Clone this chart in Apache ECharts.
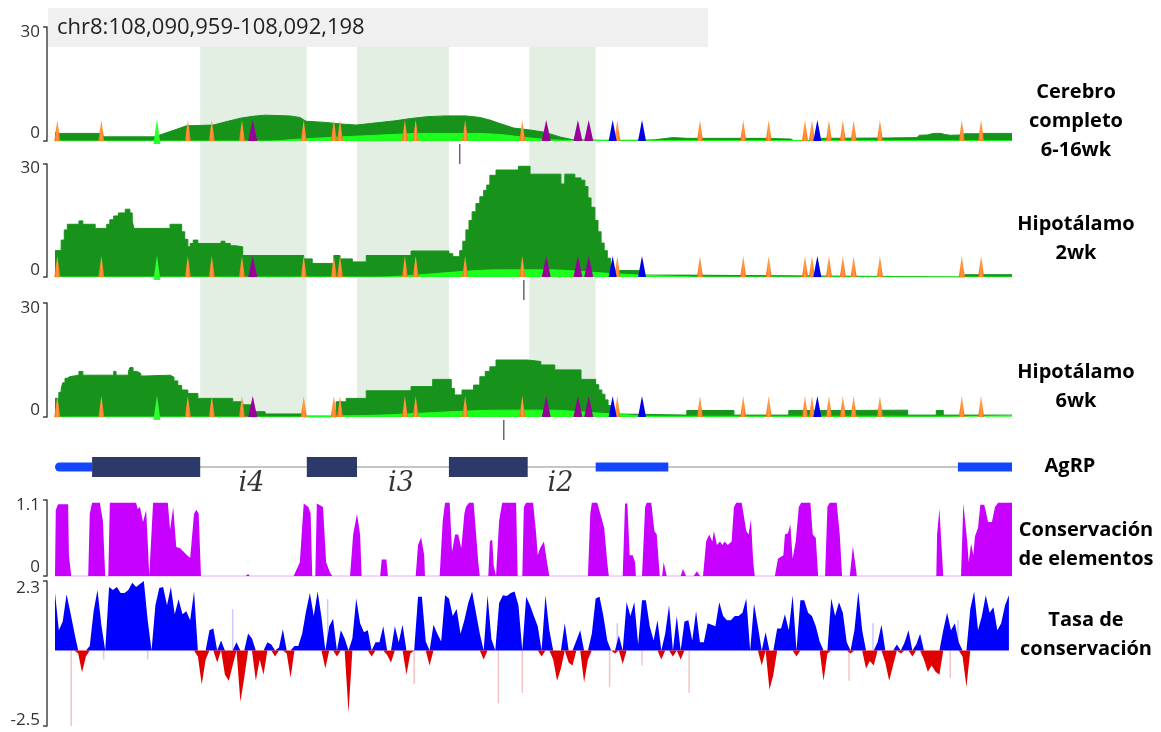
<!DOCTYPE html>
<html><head><meta charset="utf-8">
<script src="https://cdn.jsdelivr.net/npm/echarts@6/dist/echarts.min.js"></script>
<style>html,body{margin:0;padding:0;background:#fff}#c{width:1161px;height:732px}</style>
</head><body><div id="c"></div>
<script>
// ---------------- DATA (positions in bp from region start) ----------------
const region = 'chr8:108,090,959-108,092,198';
const regionLength = 1239;

const trackLabels = ['Cerebro\ncompleto\n6-16wk', 'Hipotálamo\n2wk', 'Hipotálamo\n6wk', 'AgRP', 'Conservación\nde elementos', 'Tasa de\nconservación'];

// shaded intron bands and their names
const introns = [[188, 326], [391, 510], [614, 700]];
const intronNames = ['i4', 'i3', 'i2'];

// AgRP gene model
const geneUTR = [[0, 48], [700, 794], [1169, 1239]];
const geneCDS = [[48, 188], [326, 391], [510, 612]];

// coverage: [position, reads]
const cerebroDark = [[0,2.3],[5,2.0],[60,2.0],[63,1.1],[128,1.1],[136,1.6],[149,2.5],[162,3.4],[170,4.0],[205,4.2],[220,5.0],[240,6.0],[256,6.5],[272,6.8],[304,6.6],[317,6.2],[325,5.2],[350,4.9],[369,4.5],[390,4.2],[408,4.6],[440,5.3],[460,5.9],[482,6.4],[505,6.6],[532,6.6],[550,6.2],[563,5.5],[576,4.6],[594,3.4],[615,2.9],[634,2.3],[655,1.0],[671,0.3],[706,0.2],[757,0.2],[776,0.3],[800,0.9],[818,0.7],[919,0.7],[953,0.5],[956,0.1],[990,0.1],[993,0.7],[1079,0.8],[1116,0.9],[1119,1.5],[1130,1.6],[1137,2.0],[1147,2.0],[1152,1.7],[1159,1.5],[1174,1.6],[1178,1.9],[1198,1.9],[1202,2.0],[1239,2.0]];
const cerebroLight = [[0,0],[278,0],[317,0.5],[382,1.2],[447,1.8],[473,2.0],[544,2.0],[576,1.7],[615,0.8],[654,0.2],[732,0.1],[1239,0.1]];

const hipo2Dark = [[0,7],[8,9.8],[12,12.5],[16,14],[31,14.9],[36,14],[52,12.9],[67,14],[71,15.2],[76,16.2],[82,17],[91,18],[97,17],[100,15],[102,12.9],[149,14],[164,12],[168,10],[172,8],[175,8.9],[179,9.8],[185,8.9],[215,9.5],[220,8.9],[227,8.3],[234,8],[243,5.7],[322,4.8],[333,3.6],[361,5.7],[369,4.8],[385,4],[403,5.7],[461,6.9],[510,6.2],[515,5.4],[524,7],[528,9.5],[532,12.5],[536,15],[540,17.3],[545,19.5],[550,21.3],[555,23],[559,24.4],[563,27],[571,28.4],[600,29.4],[615,27.3],[655,24.7],[660,27.3],[673,26.3],[681,25.7],[686,24],[690,21],[694,18.5],[699,15],[703,12],[707,9],[711,7],[715,5],[719,3],[722,1.7],[756,0.5],[814,0],[1178,0.6],[1239,0.6]];
const hipo2Light = [[0,0],[421,0],[473,0.6],[537,1.6],[576,1.9],[641,1.9],[680,1.5],[706,1.1],[732,0.8],[770,0.4],[822,0.1],[825,0],[1239,0]];

const hipo6Dark = [[0,4.9],[5,6.5],[8,7.5],[10,9],[13,10.2],[16,10.6],[19,11],[31,12],[36,11],[76,12],[79,11],[95,12],[97,13],[101,12],[106,11.5],[111,10.8],[118,11],[149,10.5],[154,9.5],[159,8.3],[164,7.1],[172,6.2],[185,4.9],[230,4],[243,3.2],[256,1.4],[272,0.8],[321,0],[364,4],[377,4.9],[403,6.9],[461,8],[489,9.9],[513,7.5],[517,5.8],[527,7.1],[542,8.4],[550,10.6],[557,12],[563,13.2],[571,15],[612,14.6],[629,13.7],[647,12.4],[681,9.9],[700,8.5],[704,7.1],[708,6],[712,4.5],[716,3],[720,1.8],[725,0.8],[728,0.5],[818,1.7],[879,0.5],[950,1.7],[997,1.8],[1104,0.5],[1141,1.7],[1150,0.5],[1239,0.5]];
const hipo6Light = [[0,0],[321,0],[324,0.3],[364,0.3],[421,0.5],[473,1.0],[537,1.6],[576,1.8],[641,1.8],[680,1.4],[706,1.0],[728,0.8],[757,0.3],[783,0.2],[1239,0.2]];

// site markers (same positions in the three tracks)
const orangeSites = [3,60,172,203,242,322,361,369,453,467,531,605,728,835,891,924,971,980,1002,1020,1034,1068,1174,1199];
const greenSites = [132];
const purpleSites = [256,636,677,691];
const blueSites = [722,760,987];
// short black marks under each coverage track
const summitSites = [524, 607, 581];

// conserved elements score: [position, score]
const consElements = [[0,0],[1,0.95],[4,1.04],[17,1.04],[18,0.3],[21,0],
[43,0],[45,0.9],[48,1.06],[58,1.06],[62,0.8],[65,0],
[69,0],[71,1.06],[105,1.06],[107,0.97],[110,1.0],[114,0.78],[118,0.95],[120,0.5],[122,0],
[124,0],[127,1.06],[146,1.06],[149,0.67],[153,1.0],[157,0.42],[162,0.4],[170,0.31],[175,0.26],[180,0.9],[183,0.96],[186,0.9],[189,0],
[247,0],[250,0.03],[252,0],[309,0],[317,0.2],[322,1.05],[328,1.0],[331,0.9],[333,0],[337,0],[339,1.05],[347,1.0],[351,0.2],[356,0.05],[359,0],
[382,0],[386,0.6],[391,0.9],[395,0.6],[397,0],
[421,0],[423,0.24],[429,0.24],[431,0],
[467,0],[470,0.45],[474,0.56],[478,0.3],[479,0],
[498,0],[502,0.8],[505,1.06],[511,1.06],[514,0.35],[518,0.6],[522,0.6],[526,0.4],[530,0.9],[532,1.0],[536,1.06],[542,1.06],[548,0.2],[550,0],
[561,0],[563,0.5],[566,0.53],[568,0.15],[571,0],
[572,0],[575,0.8],[579,1.06],[597,1.06],[599,0],[605,0],[607,1.0],[610,1.06],[619,1.06],[623,0.6],[625,0.3],[628,0.4],[633,0.5],[637,0.2],[640,0],
[690,0],[693,0.9],[695,1.06],[702,1.06],[706,0.9],[711,0.7],[715,0.2],[717,0],
[735,0],[738,1.05],[741,1.05],[744,0.3],[748,0.3],[751,0.2],[752,0],
[760,0],[764,1.0],[766,1.06],[772,1.06],[776,0.65],[779,0.6],[783,0],
[786,0],[788,0.2],[792,0],[810,0],[813,0.1],[817,0],[827,0],[831,0.07],[835,0],
[839,0],[843,0.5],[847,0.6],[851,0.5],[853,0.65],[857,0.45],[861,0.5],[864,0.45],[867,0.5],[871,0.45],[876,0.5],[879,1.0],[882,1.06],[889,1.06],[895,0.65],[898,0.6],[901,0.82],[904,0.2],[906,0],
[932,0],[936,0.25],[943,0.3],[945,0.6],[949,0.62],[952,0.75],[955,0.25],[959,0.5],[963,1.0],[966,1.06],[978,1.06],[981,0.6],[985,0.55],[988,0],
[997,0],[1000,1.0],[1003,1.06],[1012,1.06],[1016,0.6],[1019,0],
[1029,0],[1033,0.43],[1037,0.1],[1038,0],
[1141,0],[1142,0.6],[1145,0.97],[1147,0.97],[1150,0],
[1173,0],[1176,1.05],[1178,1.05],[1181,0.5],[1183,0.2],[1186,0.47],[1189,0.3],[1191,0.57],[1195,0.7],[1198,1.03],[1203,1.03],[1205,0.94],[1208,0.78],[1213,0.78],[1217,1.0],[1221,1.06],[1239,1.06]];

// conservation rate, one value every 5 bp
const phyloStep = 5;
const phyloP = [
1.9,0.67,0.96,1.86,1.25,0.6,-0.1,-0.72,-0.2,0.15,
1.3,2.0,0.85,0,2.1,2.0,2.1,1.9,1.9,2.0,
2.24,2.1,2.2,2.3,1.0,0,1.5,2.07,2.1,1.5,
2.1,1.2,1.7,1.2,1.3,1.0,1.95,-0.2,-1.13,-0.3,
0.67,0.73,-0.4,0.33,-0.8,-1.0,-0.5,0.27,-1.7,-0.9,
0.56,0.4,-1.0,-0.3,-0.8,0.27,0.2,-0.2,0.1,0.7,
-0.1,-0.9,0.15,0.15,0.55,1.3,1.9,1.14,1.95,1.1,
-0.6,0.8,1.05,-0.2,0.67,0.4,-2.05,0.4,1.72,0.9,
0.6,0.67,-0.2,0.27,0.27,0.8,-0.15,-0.4,0.8,0.27,
0.85,-0.8,-0.1,0,1.78,1.78,0.3,-0.5,0.85,0.55,
0.3,1.83,1.72,1.14,1.37,0.55,1.0,1.57,1.95,1.25,
0.55,-0.3,1.83,0.38,0,1.57,1.83,1.8,1.9,1.95,
1.5,0,1.78,1.5,1.14,0.8,-0.2,1.83,0.67,-0.3,
-1.0,-0.6,0.9,-0.4,-0.5,0.33,0.67,-1.05,-0.3,0.55,
1.72,1.78,1.14,0.33,0,-0.1,0.5,-0.45,1.6,1.14,
1.6,0.2,1.66,1.66,0.8,0.33,1.0,-0.3,0.55,1.5,
-0.2,1.14,-0.3,0.96,1.0,0.33,1.3,0.27,0.27,0.9,
0.85,0.8,1.6,1.14,1.0,1.0,1.14,1.14,1.25,1.72,
0,1.55,0.8,-0.5,0.6,-1.3,-0.8,0.73,0.73,1.2,
0.67,1.83,-0.2,1.66,1.66,1.25,1.14,0.8,0.3,-1.0,
-0.1,1.72,1.14,1.6,1.25,0.27,-0.1,0.67,1.95,0.67,
-0.6,-0.35,-0.5,0.27,0.85,-0.4,-1.0,-0.5,0.2,-0.1,
0.27,0.67,-0.2,0.2,0.55,-0.3,-0.7,-0.5,-0.7,-0.8,
0.67,1.25,0.67,0.9,0.27,-0.2,-1.2,1.37,1.95,0.67,
1.14,1.83,1.25,1.43,0.67,0.9,1.5,1.83];
// faint single-base spikes: [position, value]
const phyloFaint = [[21,-2.6],[63,-0.3],[120,-0.3],[230,1.37],[353,1.7],[465,-1.1],[574,-1.75],[605,-1.4],[718,-1.2],[728,0.9],[760,-0.5],[821,-1.4],[1028,-1.0],[1059,0.9],[1159,-0.9],[1169,1.0]];

// ---------------- CHART ----------------
const DARK = '#17921b', LIGHT = '#1cff1c';
const L = 55, R = 149;
const grids = [
  {top: 47, height: 370},   // intron bands
  {top: 27, height: 114},   // cerebro
  {top: 164, height: 113},  // hipo 2wk
  {top: 303, height: 114},  // hipo 6wk
  {top: 457, height: 20},   // gene
  {top: 500, height: 76},   // elements
  {top: 581, height: 145}   // phyloP
].map(g => Object.assign({left: L, right: R}, g));

const xAxes = grids.map((g, i) => ({
  gridIndex: i, type: 'value', min: 0, max: regionLength, show: i === 5,
  axisLine: {show: true, onZero: false, lineStyle: {color: '#efc8ff', width: 1.5}},
  axisTick: {show: false}, axisLabel: {show: false}, splitLine: {show: false}
}));

function bracket(gi, min, max, pt, pb) {
  const lab = {fontSize: 17, fontFamily: 'Open Sans', color: '#333'};
  return {
    gridIndex: gi, type: 'value', min: min, max: max, offset: 8,
    axisLine: {show: true, onZero: false, lineStyle: {color: '#444', width: 1.5}},
    axisTick: {show: true, customValues: [min, max], length: 4, lineStyle: {color: '#444', width: 1.5}},
    axisLabel: {
      show: true, customValues: [min, max], margin: 7,
      formatter: v => (v === max ? '{t|' + v + '}' : '{b|' + v + '}'),
      rich: {t: Object.assign({padding: [pt, 0, 0, 0]}, lab), b: Object.assign({padding: [0, 0, pb, 0]}, lab)}
    },
    splitLine: {show: false}
  };
}
const yAxes = [
  {gridIndex: 0, type: 'value', min: 0, max: 1, show: false},
  bracket(1, 0, 30, 10, 16),
  bracket(2, 0, 30, 8, 14),
  bracket(3, 0, 30, 10, 14),
  {gridIndex: 4, type: 'value', min: 0, max: 1, show: false},
  bracket(5, 0, 1.1, 10, 18),
  bracket(6, -2.5, 2.3, 14, 12)
];

const series = [];
// intron bands spanning the three coverage tracks
series.push({
  type: 'line', xAxisIndex: 0, yAxisIndex: 0, data: [[0, 0]], symbol: 'none', silent: true, z: 0,
  lineStyle: {opacity: 0},
  markArea: {silent: true, itemStyle: {color: '#e3efe3'},
    data: introns.map(b => [{xAxis: b[0]}, {xAxis: b[1]}])}
});

const orangeGrad = {type: 'linear', x: 0, y: 0, x2: 1, y2: 0,
  colorStops: [{offset: 0, color: '#ff6200'}, {offset: 0.5, color: '#ff9e4a'}, {offset: 1, color: '#ff6200'}]};
const markerTypes = [
  {sites: orangeSites, color: orangeGrad, size: [6, 21], dy: 0},
  {sites: greenSites, color: '#2cff2c', size: [7, 25], dy: 3},
  {sites: purpleSites, color: '#990099', size: [9, 21], dy: 0},
  {sites: blueSites, color: '#0000e6', size: [8, 21], dy: 0}
];
const coverage = [[cerebroDark, cerebroLight, false], [hipo2Dark, hipo2Light, 'end'], [hipo6Dark, hipo6Light, 'end']];
coverage.forEach((c, k) => {
  const ax = k + 1;
  series.push({type: 'line', xAxisIndex: ax, yAxisIndex: ax, data: c[0], step: c[2], symbol: 'none', z: 2,
    lineStyle: {color: DARK, width: 1}, areaStyle: {color: DARK, opacity: 1}});
  series.push({type: 'line', xAxisIndex: ax, yAxisIndex: ax, data: c[1], smooth: 0.3, symbol: 'none', z: 3,
    lineStyle: {color: LIGHT, width: 1}, areaStyle: {color: LIGHT, opacity: 1}});
  markerTypes.forEach(m => {
    series.push({type: 'scatter', xAxisIndex: ax, yAxisIndex: ax, clip: false, z: 4, silent: true,
      symbol: 'triangle', symbolSize: m.size, symbolOffset: [0, -m.size[1] / 2 + m.dy],
      itemStyle: {color: m.color, opacity: 1}, data: m.sites.map(x => [x, 0])});
  });
  series.push({type: 'scatter', xAxisIndex: ax, yAxisIndex: ax, clip: false, z: 4, silent: true,
    symbol: 'rect', symbolSize: [1.5, 20], symbolOffset: [0, 13], itemStyle: {color: '#444'},
    data: [[summitSites[k], 0]]});
});

// gene model
const geneItems = [[0, regionLength, 0]].concat(geneUTR.map(u => [u[0], u[1], 1]), geneCDS.map(c => [c[0], c[1], 2]));
series.push({
  type: 'custom', xAxisIndex: 4, yAxisIndex: 4, clip: false, z: 3, silent: true,
  data: geneItems, encode: {x: [0, 1]},
  renderItem: (params, api) => {
    const s = api.coord([api.value(0), 0.5]), e = api.coord([api.value(1), 0.5]);
    const t = api.value(2);
    const h = t === 0 ? 1.2 : (t === 1 ? 9 : 20);
    const col = t === 0 ? '#8c8c8c' : (t === 1 ? '#1446ff' : '#2c3a6b');
    const r = (t === 1 && api.value(0) === 0) ? [5, 0, 0, 5] : 0;
    return {type: 'rect', shape: {x: s[0], y: s[1] - h / 2, width: e[0] - s[0], height: h, r: r}, style: {fill: col}};
  }
});
series.push({
  type: 'scatter', xAxisIndex: 4, yAxisIndex: 4, silent: true, symbolSize: 1, clip: false, z: 5,
  itemStyle: {color: 'rgba(0,0,0,0)'},
  data: introns.map((b, k) => ({value: [(b[0] + b[1]) / 2, 0.5], name: intronNames[k]})),
  label: {show: true, position: 'inside', offset: [-2, 17], formatter: '{b}',
    fontFamily: 'DejaVu Serif', fontStyle: 'italic', fontSize: 27, color: '#000'}
});

// conserved elements
series.push({type: 'line', xAxisIndex: 5, yAxisIndex: 5, data: consElements, symbol: 'none', z: 3,
  lineStyle: {width: 0}, areaStyle: {color: '#c800ff', opacity: 1}});

// conservation rate
series.push({type: 'bar', xAxisIndex: 6, yAxisIndex: 6, barWidth: 1.5, silent: true, z: 1,
  data: phyloFaint, itemStyle: {color: p => (p.value[1] > 0 ? '#c9c9ff' : '#f7c2c2')}});
series.push({type: 'line', xAxisIndex: 6, yAxisIndex: 6, symbol: 'none', z: 3,
  data: phyloP.map((v, i) => [i * phyloStep, Math.max(0, v)]),
  lineStyle: {width: 0}, areaStyle: {color: '#0000ff', opacity: 1}});
series.push({type: 'line', xAxisIndex: 6, yAxisIndex: 6, symbol: 'none', z: 3,
  data: phyloP.map((v, i) => [i * phyloStep, Math.min(0, v)]),
  lineStyle: {width: 0}, areaStyle: {color: '#e00000', opacity: 1}});

// labels on the right
const labelPos = [[1076, 121], [1076, 238.5], [1076, 386.5], [1070, 466], [1086, 545], [1086, 634.5]];
const graphic = [
  {type: 'rect', left: 48, top: 8, z: 10, shape: {width: 660, height: 39}, style: {fill: '#f0f0f0'}},
  {type: 'text', z: 11, style: {x: 57, y: 28, text: region, font: '22px "Open Sans"', fill: '#222', verticalAlign: 'middle'}}
].concat(trackLabels.map((t, i) => ({
  type: 'text', z: 11,
  style: {x: labelPos[i][0], y: labelPos[i][1], text: t, font: 'bold 20px "Open Sans"', lineHeight: 29,
    fill: '#000', align: 'center', verticalAlign: 'middle'}
})));

const chart = echarts.init(document.getElementById('c'), null, {renderer: 'canvas'});
chart.setOption({
  animation: false, backgroundColor: '#ffffff',
  grid: grids, xAxis: xAxes, yAxis: yAxes, series: series, graphic: graphic
});
</script></body></html>
